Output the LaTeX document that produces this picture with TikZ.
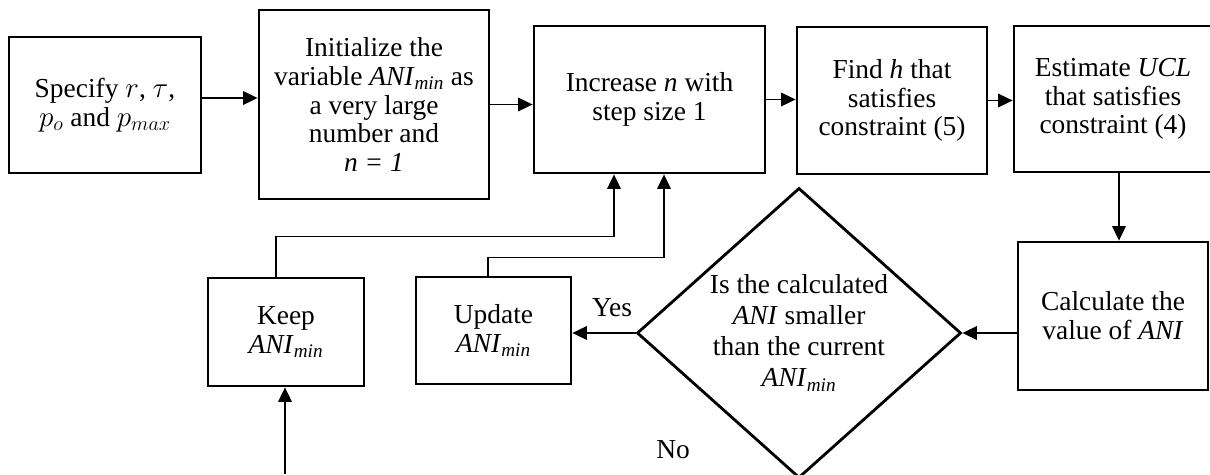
\documentclass[tikz,border=0pt]{standalone}
\usepackage{fontspec}
\setmainfont{Liberation Serif}
\usetikzlibrary{arrows.meta,calc,shapes.geometric}
\newcommand{\animin}{\textit{ANI}\textsubscript{\textit{min}}}

\begin{document}
\begin{tikzpicture}[x=0.025cm, y=0.025cm,
		font=\fontsize{19.5}{20.5}\selectfont,
		blk/.style={draw, line width=2pt, align=center, inner sep=2pt},
		arr/.style={line width=0.9pt, -{Triangle[length=0.36cm,width=0.34cm]}}]
		\useasboundingbox (0,0) rectangle (1210,474);
		\clip (0,0) rectangle (1210,474);
		% top row
		\node[blk, minimum width=4.8cm, minimum height=3.4cm] (spec) at (105,369) {Specify $r$, $\tau$,\\ $p_o$ and $p_{max}$};
		\node[blk, minimum width=5.75cm, minimum height=4.725cm] (init) at (374,369.5) {Initialize the\\ variable \animin{} as\\ a very large\\ number and\\ \textit{n = 1}};
		\node[blk, minimum width=5.775cm, minimum height=3.675cm] (incr) at (649.5,374.5) {Increase \textit{n} with\\ step size 1};
		\node[blk, minimum width=4.75cm, minimum height=3.675cm] (findh) at (892,373.5) {Find \textit{h} that\\ satisfies\\ constraint (5)};
		\node[blk, minimum width=4.95cm, minimum height=3.65cm] (ucl) at (1113,375) {Estimate \textit{UCL}\\ that satisfies\\ constraint (4)};
		% bottom row
		\node[blk, minimum width=4.75cm, minimum height=3.7cm] (calc) at (1113,158) {Calculate the\\ value of \textit{ANI}};
		\node[blk, shape=diamond, aspect=1.12, inner sep=0pt, minimum width=8.1cm, minimum height=7.25cm,
			font=\fontsize{19.5}{22}\selectfont] (dec) at (799,141) {Is the calculated\\ \textit{ANI} smaller\\ than the current\\ \animin};
		\node[blk, minimum width=3.875cm, minimum height=2.675cm] (upd) at (493.5,143.5) {Update\\ \animin};
		\node[blk, minimum width=3.9cm, minimum height=2.7cm] (keep) at (286,142) {Keep\\ \animin};
		\node (yes) at (612,166) {Yes};
		\node (no) at (673,24) {No};
		\coordinate (nofoot) at (285,0);

		\path[arr] ($(spec.east)+(0,7)$) edge ($(spec.east -| init.west)+(0,7)$)
			(init.east) edge (init.east -| incr.west)
			(incr.east) edge (incr.east -| findh.west)
			(findh.east) edge (findh.east -| ucl.west)
			($(ucl.south)+(6,0)$) edge ($(calc.north)+(6,0)$)
			(calc.west |- dec.east) edge (dec.east)
			(dec.west) edge (dec.west -| upd.east)
			(nofoot) edge (nofoot |- keep.south);
		\draw[arr] ($(keep.north)+(-10,0)$) |- ($(incr.south)+(-35.5,-62)$) -- ($(incr.south)+(-35.5,0)$);
		\draw[arr] ($(upd.north)+(-5.5,0)$) |- ($(incr.south)+(14.5,-83)$) -- ($(incr.south)+(14.5,0)$);
	\end{tikzpicture}
\end{document}
